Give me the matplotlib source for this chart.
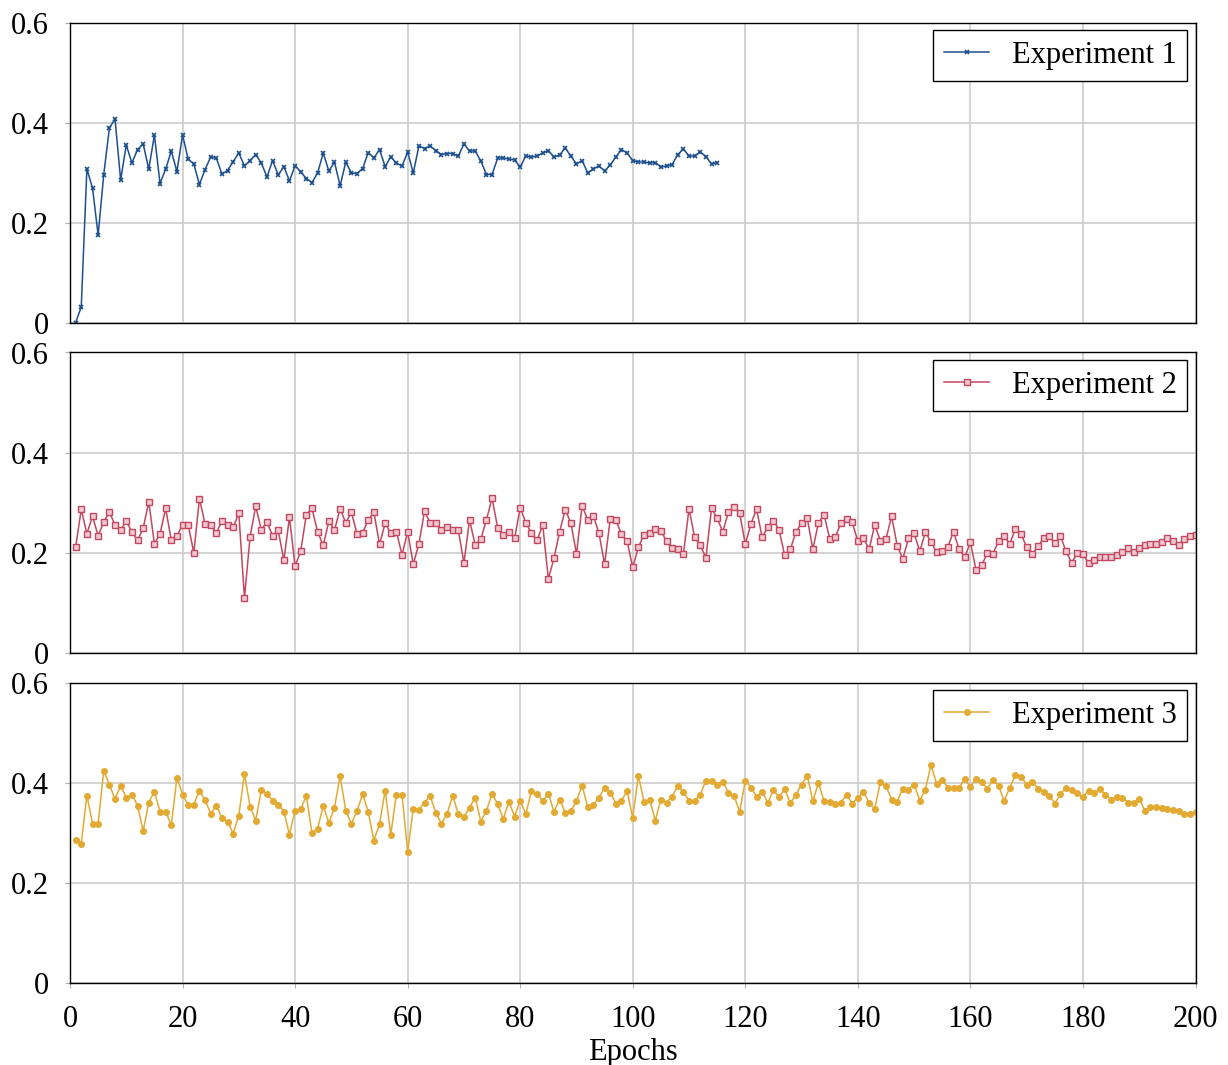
import numpy as np
import matplotlib
matplotlib.use('Agg')
import matplotlib.pyplot as plt

# Dados
exp1_epochs = list(range(1, 116))
exp1 = [0.000, 0.031, 0.307, 0.269, 0.175, 0.296, 0.389, 0.407, 0.285, 0.355,
        0.319, 0.346, 0.357, 0.307, 0.375, 0.278, 0.307, 0.343, 0.302, 0.375,
        0.327, 0.317, 0.276, 0.306, 0.331, 0.329, 0.297, 0.304, 0.322, 0.339,
        0.313, 0.324, 0.336, 0.319, 0.291, 0.324, 0.295, 0.312, 0.283, 0.314,
        0.301, 0.288, 0.280, 0.299, 0.339, 0.303, 0.321, 0.273, 0.321, 0.299,
        0.298, 0.308, 0.340, 0.329, 0.346, 0.312, 0.331, 0.319, 0.313, 0.341,
        0.299, 0.353, 0.348, 0.353, 0.344, 0.336, 0.338, 0.338, 0.333, 0.357,
        0.343, 0.343, 0.323, 0.296, 0.296, 0.329, 0.329, 0.327, 0.325, 0.311,
        0.333, 0.331, 0.333, 0.339, 0.344, 0.331, 0.335, 0.349, 0.333, 0.317,
        0.324, 0.299, 0.307, 0.313, 0.303, 0.315, 0.331, 0.346, 0.339, 0.324,
        0.321, 0.321, 0.319, 0.320, 0.311, 0.313, 0.316, 0.336, 0.347, 0.333,
        0.333, 0.341, 0.332, 0.317, 0.320]

exp2_epochs = list(range(1, 201))
exp2 = [0.211, 0.287, 0.238, 0.273, 0.234, 0.262, 0.281, 0.256, 0.245, 0.264,
        0.241, 0.225, 0.249, 0.302, 0.218, 0.238, 0.289, 0.225, 0.233, 0.256,
        0.256, 0.200, 0.308, 0.258, 0.256, 0.239, 0.264, 0.256, 0.251, 0.279,
        0.110, 0.232, 0.293, 0.246, 0.262, 0.234, 0.245, 0.185, 0.271, 0.173,
        0.204, 0.276, 0.289, 0.242, 0.215, 0.263, 0.245, 0.288, 0.260, 0.281,
        0.238, 0.240, 0.266, 0.281, 0.217, 0.259, 0.239, 0.242, 0.196, 0.242,
        0.177, 0.218, 0.283, 0.260, 0.260, 0.246, 0.252, 0.245, 0.245, 0.180,
        0.266, 0.216, 0.227, 0.266, 0.309, 0.250, 0.235, 0.242, 0.229, 0.290,
        0.260, 0.239, 0.225, 0.256, 0.148, 0.189, 0.242, 0.286, 0.260, 0.198,
        0.294, 0.266, 0.274, 0.239, 0.177, 0.268, 0.266, 0.237, 0.223, 0.171,
        0.211, 0.236, 0.239, 0.248, 0.244, 0.223, 0.209, 0.207, 0.197, 0.288,
        0.231, 0.215, 0.190, 0.289, 0.269, 0.242, 0.281, 0.292, 0.279, 0.217,
        0.258, 0.287, 0.231, 0.252, 0.264, 0.246, 0.195, 0.207, 0.242, 0.259,
        0.270, 0.207, 0.260, 0.276, 0.228, 0.231, 0.260, 0.268, 0.261, 0.223,
        0.229, 0.207, 0.256, 0.224, 0.228, 0.273, 0.214, 0.188, 0.229, 0.239,
        0.203, 0.241, 0.222, 0.201, 0.203, 0.212, 0.242, 0.207, 0.191, 0.221,
        0.166, 0.175, 0.199, 0.198, 0.223, 0.233, 0.218, 0.248, 0.238, 0.211,
        0.197, 0.213, 0.229, 0.233, 0.219, 0.233, 0.203, 0.180, 0.200, 0.198,
        0.179, 0.185, 0.192, 0.191, 0.191, 0.195, 0.201, 0.209, 0.201, 0.210,
        0.215, 0.218, 0.217, 0.221, 0.229, 0.223, 0.216, 0.228, 0.234, 0.235]

exp3_epochs = list(range(1, 201))
exp3 = [0.287, 0.279, 0.375, 0.319, 0.319, 0.425, 0.396, 0.368, 0.395, 0.371,
        0.377, 0.355, 0.304, 0.361, 0.383, 0.343, 0.343, 0.316, 0.411, 0.377,
        0.356, 0.357, 0.385, 0.366, 0.339, 0.355, 0.330, 0.323, 0.299, 0.335,
        0.419, 0.353, 0.325, 0.386, 0.379, 0.365, 0.357, 0.343, 0.297, 0.345,
        0.348, 0.374, 0.300, 0.309, 0.354, 0.320, 0.351, 0.414, 0.345, 0.319,
        0.344, 0.378, 0.342, 0.285, 0.318, 0.385, 0.297, 0.377, 0.377, 0.262,
        0.349, 0.347, 0.361, 0.374, 0.341, 0.319, 0.338, 0.375, 0.338, 0.332,
        0.351, 0.371, 0.323, 0.345, 0.378, 0.358, 0.328, 0.363, 0.333, 0.365,
        0.338, 0.384, 0.379, 0.364, 0.379, 0.343, 0.367, 0.341, 0.344, 0.364,
        0.395, 0.352, 0.356, 0.371, 0.390, 0.381, 0.359, 0.365, 0.384, 0.330,
        0.415, 0.362, 0.367, 0.325, 0.367, 0.361, 0.373, 0.394, 0.382, 0.365,
        0.364, 0.377, 0.405, 0.405, 0.397, 0.403, 0.381, 0.374, 0.343, 0.405,
        0.391, 0.373, 0.383, 0.360, 0.386, 0.372, 0.388, 0.360, 0.377, 0.397,
        0.415, 0.364, 0.400, 0.364, 0.363, 0.358, 0.361, 0.377, 0.359, 0.371,
        0.382, 0.361, 0.348, 0.402, 0.394, 0.367, 0.363, 0.389, 0.387, 0.397,
        0.365, 0.387, 0.436, 0.398, 0.406, 0.391, 0.391, 0.391, 0.408, 0.392,
        0.409, 0.403, 0.389, 0.406, 0.395, 0.364, 0.391, 0.416, 0.413, 0.397,
        0.403, 0.388, 0.383, 0.375, 0.359, 0.378, 0.391, 0.387, 0.380, 0.372,
        0.385, 0.381, 0.388, 0.377, 0.367, 0.373, 0.371, 0.361, 0.361, 0.368,
        0.345, 0.353, 0.352, 0.351, 0.349, 0.346, 0.345, 0.339, 0.339, 0.342]

labels = ['Experiment 1', 'Experiment 2', 'Experiment 3']
colors = ['#1c4f8f', '#c2475f', '#e2aa32']
x_ticks = [0, 20, 40, 60, 80, 100, 120, 140, 160, 180, 200]
y_ticks = [0, 0.2, 0.4, 0.6]
y_ticklabels = ['0', '0.2', '0.4', '0.6']

plt.rcParams['font.family'] = ['Liberation Serif', 'DejaVu Serif']

fig = plt.figure(figsize=(12.28, 10.65), dpi=100)
W, H = 1228, 1065
tops = [22.5, 352.5, 683]
bottoms = [322.5, 653, 983]
left, right = 70, 1195.5
fs = 22

series = [(exp1_epochs, exp1), (exp2_epochs, exp2), (exp3_epochs, exp3)]
markers = [dict(marker='x', markersize=3.5, markeredgewidth=1.2),
           dict(marker='s', markersize=4, markeredgewidth=1.0, markerfacecolor='#f0c8d0'),
           dict(marker='o', markersize=4.2, markeredgewidth=0.8)]

axes = []
for i in range(3):
    ax = fig.add_axes([left / W, 1 - bottoms[i] / H, (right - left) / W, (bottoms[i] - tops[i]) / H])
    axes.append(ax)
    xs, ys = series[i]
    ax.plot(xs, ys, color=colors[i], linewidth=1.1, label=labels[i], **markers[i])
    ax.set_xlim(0, 200)
    ax.set_ylim(0, 0.6)
    ax.set_xticks(x_ticks)
    ax.set_yticks(y_ticks)
    ax.set_yticklabels(y_ticklabels)
    ax.grid(True, color='#c8c8c8', linewidth=1.1)
    ax.set_axisbelow(True)
    ax.tick_params(direction='out', length=3.5, color='#b0b0b0', labelsize=fs)
    ax.tick_params(axis='y', pad=11.5)
    ax.tick_params(axis='x', pad=12)
    for s in ax.spines.values():
        s.set_color('black')
        s.set_linewidth(1.0)
    if i < 2:
        ax.tick_params(axis='x', labelbottom=False, length=0)
    leg = ax.legend(loc='upper right', fontsize=fs, fancybox=False, framealpha=1,
                    edgecolor='black', handlelength=1.45, handletextpad=0.75,
                    borderpad=0.36, borderaxespad=0,
                    bbox_to_anchor=(1 - 8 / 1125, 1 - 7 / 300))
    leg.get_frame().set_linewidth(1.0)

axes[2].set_xlabel('Epochs', fontsize=fs, labelpad=3)

fig.savefig('out.png', dpi=100)
